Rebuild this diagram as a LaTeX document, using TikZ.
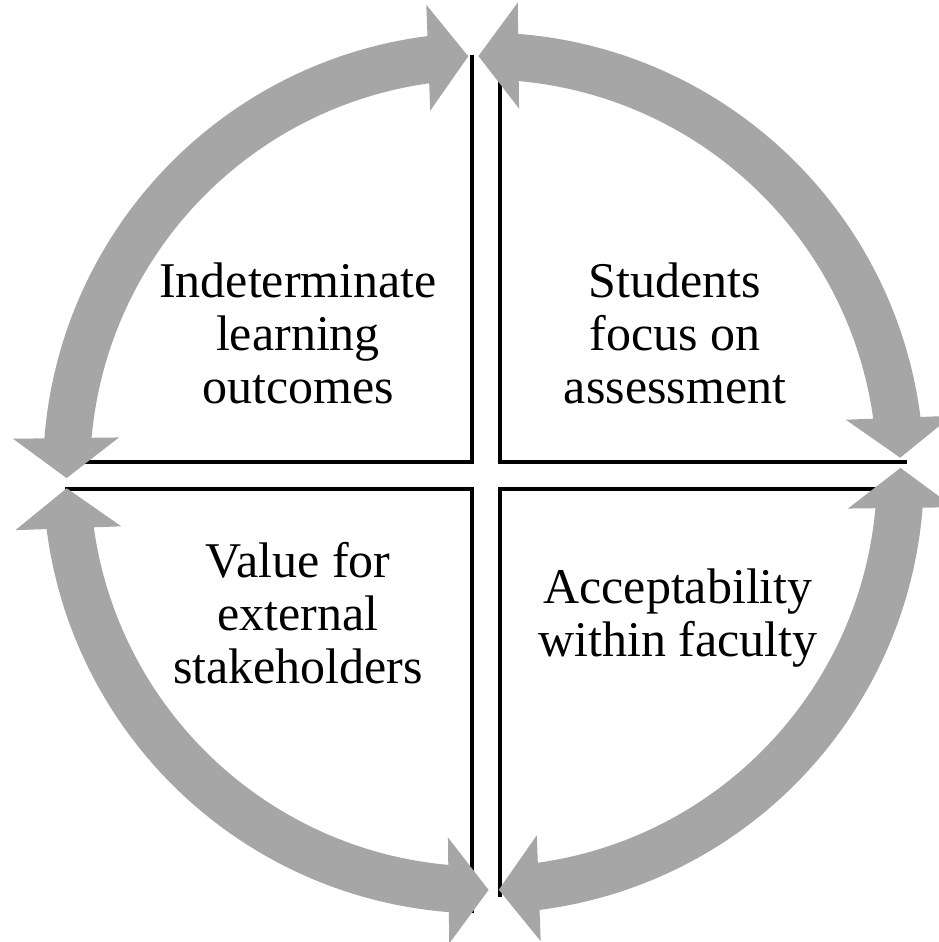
\documentclass[tikz,border=0pt]{standalone}
\usepackage{fontspec}
\setmainfont{Liberation Serif}
\usetikzlibrary{calc}
\definecolor{arrowgray}{HTML}{A6A6A6}
\newcommand{\cyclearc}[2]{%
  \pgfmathsetmacro{\ca}{#1}\pgfmathsetmacro{\cb}{#2}%
  \pgfmathsetmacro{\cas}{#1+5}\pgfmathsetmacro{\cbs}{#2-5}%
  \pgfmathsetmacro{\caback}{#1+90}\pgfmathsetmacro{\cbback}{#2-90}%
  \pgfmathsetmacro{\caopp}{#1+180}\pgfmathsetmacro{\cbopp}{#2+180}%
  \draw[shaftline] ([shift={(\cas:417)}]c) arc[start angle=\cas, end angle=\cbs, radius=417];
  \coordinate (ta) at ([shift={(\ca:417)}]c);
  \coordinate (tb) at ([shift={(\cb:417)}]c);
  \fill[arrowgray] (ta) -- ($(ta)+(\caback:40)+(\ca:53)$) -- ($(ta)+(\caback:40)+(\caopp:53)$) -- cycle;
  \fill[arrowgray] (tb) -- ($(tb)+(\cbback:40)+(\cb:53)$) -- ($(tb)+(\cbback:40)+(\cbopp:53)$) -- cycle;
}
\begin{document}
\begin{tikzpicture}[x=1pt,y=-1pt,
  quadline/.style={line width=4pt, line join=miter, draw=black},
  shaftline/.style={line width=47pt, draw=arrowgray, line cap=butt},
  quadtext/.style={align=center, font=\fontsize{50}{53}\selectfont, inner sep=0pt}]
\fill[white] (0,0) rectangle (939,942);
\useasboundingbox (0,0) rectangle (939,942);
\coordinate (c) at (483.5,473);
% quadrant edges
\draw[quadline] (66,462) -- (472,462) -- (472,55);
\draw[quadline] (500,55) -- (500,462) -- (907,462);
\draw[quadline] (65,489) -- (472,489) -- (472,913);
\draw[quadline] (907,489) -- (500,489) -- (500,897);
% cycle arrows (double headed arcs)
\cyclearc{179.3}{267.9}
\cyclearc{269.3}{357.9}
\cyclearc{-0.7}{87.9}
\cyclearc{89.3}{177.9}
% texts
\node[quadtext] (tl) at (298,333) {Indeterminate\\learning\\outcomes};
\node[quadtext] (tr) at (675,333) {Students\\focus on\\assessment};
\node[quadtext] (bl) at (298,613) {Value for\\external\\stakeholders};
\node[quadtext] (br) at (678,618) {Acceptability\\within faculty};
\end{tikzpicture}
\end{document}
